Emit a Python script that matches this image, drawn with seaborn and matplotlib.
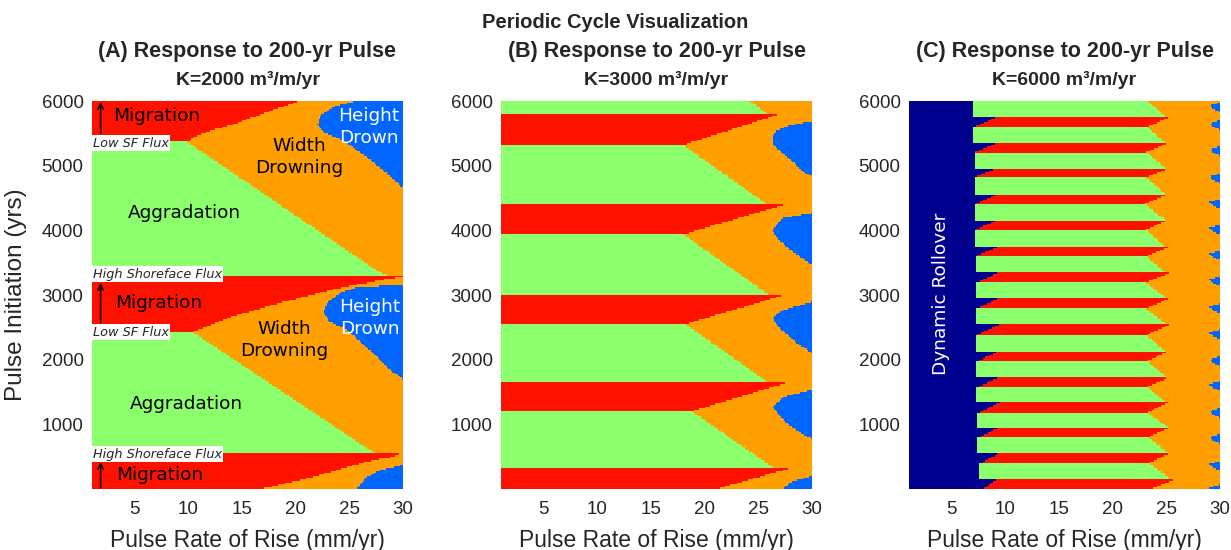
import numpy as np
import pandas as pd
import matplotlib
matplotlib.use("Agg")
import matplotlib.pyplot as plt
import seaborn as sns
from matplotlib.colors import ListedColormap
from matplotlib.path import Path

sns.set_style("white")
plt.rcParams["font.family"] = ["Liberation Sans", "DejaVu Sans"]

# regime codes and colours
ORANGE, GREEN, RED, BLUE, NAVY = 0, 1, 2, 3, 4
regime_colors = ["#ff9f00", "#8cff6c", "#ff1100", "#0066ff", "#00008f"]

# model grid: pulse rate (mm/yr) by pulse initiation (yr)
rate_lo, rate_hi, rate_step = 1.0, 30.0, 0.125
year_lo, year_hi, year_step = 0.0, 6000.0, 25.0

# ---------------- Panel A, K = 2000 : region outlines (rate, year)
a_red_top = [(1, 5365), (9.9, 5365), (10.8, 5473), (12.3, 5550), (14.5, 5658),
             (17.3, 5828), (20.1, 5983), (20.3, 6000), (1, 6000)]
a_green_upper = [(1, 3310), (28.6, 3310), (27.9, 3340), (9.9, 5365), (1, 5365)]
a_red_mid = [(1, 2427), (10.4, 2427), (13.9, 2659), (18.5, 2876), (23.2, 3077),
             (27.9, 3231), (30, 3278), (30, 3310), (1, 3310)]
a_green_lower = [(1, 540), (27.6, 540), (26.9, 603), (10.4, 2427), (1, 2427)]
a_red_bot = [(1, 0), (16.7, 0), (21.6, 186), (24.8, 340), (27.2, 448),
             (29.0, 495), (29.6, 540), (1, 540)]
a_blue_top = [(25.7, 6000), (23.7, 5921), (22.3, 5782), (22.0, 5627), (22.7, 5504),
              (24.4, 5396), (26.65, 5133), (28.5, 4885), (30, 4653), (30, 6000)]
a_blue_mid = [(30, 3154), (25.7, 3123), (24.1, 3030), (22.9, 2876), (22.55, 2721),
              (23.2, 2582), (24.8, 2458), (27.2, 2103), (28.8, 1840), (29.9, 1716), (30, 1700)]
a_blue_bot = [(25.7, 0), (26.65, 186), (27.9, 294), (30, 371), (30, 0)]

# ---------------- Panel B, K = 3000 : horizontal bands
b_green_top_yr = [6000, 5320, 3940, 2550, 1200]
b_green_bot_yr = [5800, 4390, 3010, 1650, 330]
b_green_top_x = [24.2, 18.0, 18.0, 18.2, 18.8]
b_green_bot_x = [25.8, 25.9, 25.9, 25.9, 26.4]
b_red_top_yr = [5800, 4390, 3010, 1650, 330]
b_red_bot_yr = [5320, 3940, 2550, 1200, 0]
b_red_top_x = [27.0, 27.3, 27.6, 27.8, 28.1]
b_red_bot_x = [18.0, 18.0, 18.2, 18.8, 21.1]
b_blue = [
    [(30, 5689), (28.0, 5627), (26.65, 5535), (26.3, 5426), (26.4, 5318),
     (28.0, 5086), (29.2, 4901), (30, 4839)],
    [(30, 4267), (27.3, 4190), (26.3, 4004), (26.75, 3880), (28.0, 3695), (30, 3463)],
    [(30, 2891), (27.3, 2767), (26.3, 2644), (27.0, 2489), (28.6, 2257), (30, 2103)],
    [(30, 1531), (27.3, 1422), (26.4, 1268), (27.3, 1067), (28.9, 866), (30, 773)],
    [(30, 201), (28.0, 108), (27.3, 0), (30, 0)],
]

# ---------------- Panel C, K = 6000 : rollover zone plus narrow bands
c_rollover_x = 10.0
c_red_top_yr = [5750, 5350, 4960, 4560, 4160, 3740, 3340, 2950, 2540, 2130, 1730, 1340, 960, 560, 150]
c_red_bot_yr = [5600, 5210, 4820, 4410, 4010, 3600, 3190, 2790, 2380, 1980, 1580, 1180, 800, 400, 0]
c_red_left_top_x = [9.2, 9.2, 9.2, 9.3, 9.3, 9.3, 9.3, 9.4, 9.4, 9.4, 9.5, 9.5, 9.5, 9.5, 9.2]
c_red_left_bot_x = [7.1, 7.1, 7.1, 7.2, 7.2, 7.2, 7.3, 7.3, 7.3, 7.4, 7.4, 7.5, 7.6, 7.7, 7.9]
c_red_right_top_x = [25.3, 25.2, 25.2, 25.2, 25.2, 25.2, 25.3, 25.3, 25.3, 25.2, 25.3, 25.2, 25.4, 25.4, 25.8]
c_red_right_bot_x = [23.2, 23.1, 23.1, 23.0, 23.1, 23.1, 23.1, 23.1, 23.1, 23.2, 23.2, 23.2, 23.3, 23.4, 23.5]
c_green_top_yr = [6000, 5600, 5210, 4820, 4410, 4010, 3600, 3190, 2790, 2380, 1980, 1580, 1180, 800, 400]
c_green_bot_yr = [5750, 5350, 4960, 4560, 4160, 3740, 3340, 2950, 2540, 2130, 1730, 1340, 960, 560, 150]
c_green_left_x = [7.0, 7.0, 7.1, 7.1, 7.1, 7.15, 7.2, 7.2, 7.25, 7.25, 7.3, 7.3, 7.35, 7.4, 7.5]
c_green_top_x = [23.2, 23.2, 23.1, 23.1, 23.0, 23.1, 23.1, 23.1, 23.1, 23.1, 23.2, 23.2, 23.2, 23.3, 23.4]
c_green_bot_x = [25.0, 24.9, 24.9, 24.9, 24.9, 24.9, 25.0, 25.0, 25.0, 24.9, 25.0, 24.9, 25.1, 25.1, 25.4]
c_blue_top_yr = [6000, 5720, 5320, 4900, 4510, 4110, 3710, 3310, 2890, 2490, 2070, 1690, 1270, 870, 460, 90]
c_blue_height = 200
c_blue_tip_x = 29.0

rate_centers = np.arange(rate_lo + rate_step / 2, rate_hi, rate_step)
year_centers = np.arange(year_hi - year_step / 2, year_lo, -year_step)
RR, YY = np.meshgrid(rate_centers, year_centers)
cell_pts = np.column_stack([RR.ravel(), YY.ravel()])


def paint(grid, poly, code):
    inside = Path(poly).contains_points(cell_pts).reshape(grid.shape)
    grid[inside] = code


def band(y_bot, y_top, xl_bot, xl_top, xr_bot, xr_top):
    return [(xl_bot, y_bot), (xr_bot, y_bot), (xr_top, y_top), (xl_top, y_top)]


def new_grid():
    return np.full(RR.shape, ORANGE, dtype=float)


grid_a = new_grid()
for poly, code in [(a_green_upper, GREEN), (a_green_lower, GREEN), (a_red_top, RED),
                   (a_red_mid, RED), (a_red_bot, RED), (a_blue_top, BLUE),
                   (a_blue_mid, BLUE), (a_blue_bot, BLUE)]:
    paint(grid_a, poly, code)

grid_b = new_grid()
for i in range(len(b_green_top_yr)):
    paint(grid_b, band(b_green_bot_yr[i], b_green_top_yr[i], 1, 1,
                       b_green_bot_x[i], b_green_top_x[i]), GREEN)
for i in range(len(b_red_top_yr)):
    paint(grid_b, band(b_red_bot_yr[i], b_red_top_yr[i], 1, 1,
                       b_red_bot_x[i], b_red_top_x[i]), RED)
for poly in b_blue:
    paint(grid_b, poly, BLUE)

grid_c = new_grid()
paint(grid_c, [(1, 0), (c_rollover_x, 0), (c_rollover_x, 6000), (1, 6000)], NAVY)
for i in range(len(c_green_top_yr)):
    paint(grid_c, band(c_green_bot_yr[i], c_green_top_yr[i], c_green_left_x[i],
                       c_green_left_x[i], c_green_bot_x[i], c_green_top_x[i]), GREEN)
for i in range(len(c_red_top_yr)):
    paint(grid_c, band(c_red_bot_yr[i], c_red_top_yr[i], c_red_left_bot_x[i],
                       c_red_left_top_x[i], c_red_right_bot_x[i], c_red_right_top_x[i]), RED)
for top in c_blue_top_yr:
    paint(grid_c, [(30.5, top), (c_blue_tip_x, top - 0.35 * c_blue_height),
                   (29.4, top - 0.65 * c_blue_height), (30.5, top - c_blue_height)], BLUE)


def cx(x):
    return (x - rate_lo) / rate_step


def cy(y):
    return (year_hi - y) / year_step


fig = plt.figure(figsize=(12.31, 5.5), dpi=100)
cmap = ListedColormap(regime_colors)
lefts = [92, 501, 909]
grids = [grid_a, grid_b, grid_c]
letters = ["A", "B", "C"]
kvals = [2000, 3000, 6000]
tick_color = "#262626"
axes = []
for left, grid, letter, k in zip(lefts, grids, letters, kvals):
    ax = fig.add_axes([left / 1231, 1 - 489 / 550, 311 / 1231, 388 / 550])
    df = pd.DataFrame(grid, index=year_centers, columns=rate_centers)
    sns.heatmap(df, ax=ax, cmap=cmap, vmin=-0.5, vmax=4.5, cbar=False,
                xticklabels=False, yticklabels=False)
    ax.set_xlim(0, len(rate_centers))
    ax.set_ylim(len(year_centers), 0)
    xt = [5, 10, 15, 20, 25, 30]
    yt = [1000, 2000, 3000, 4000, 5000, 6000]
    ax.set_xticks([cx(v) for v in xt])
    ax.set_xticklabels([str(v) for v in xt])
    ax.set_yticks([cy(v) for v in yt])
    ax.set_yticklabels([str(v) for v in yt])
    ax.tick_params(length=0, labelsize=13.5, colors=tick_color)
    ax.tick_params(axis="x", pad=9)
    ax.tick_params(axis="y", pad=6)
    ax.set_xlabel("Pulse Rate of Rise (mm/yr)", fontsize=16.5, color=tick_color)
    ax.xaxis.set_label_coords(0.5, -0.104)
    for s in ax.spines.values():
        s.set_visible(False)
    xc = (left + 155.5) / 1231
    fig.text(xc, 1 - 52 / 550, f"({letter}) Response to 200-yr Pulse", ha="center",
             va="center", fontsize=15.5, fontweight="bold")
    fig.text(xc, 1 - 80 / 550, f"K={k} m³/m/yr", ha="center", va="center",
             fontsize=14, fontweight="bold")
    axes.append(ax)

fig.text(0.5, 1 - 22 / 550, "Periodic Cycle Visualization", ha="center", va="center",
         fontsize=14.5, fontweight="bold")

ax_a = axes[0]
ax_a.set_ylabel("Pulse Initiation (yrs)", fontsize=17.5, color=tick_color)
ax_a.yaxis.set_label_coords(-0.21, 0.5)

label_font = dict(family="DejaVu Sans", fontsize=13.3)
flux_font = dict(family="DejaVu Sans", fontsize=9.3, style="italic")
box = dict(facecolor="white", edgecolor="none", pad=1.2)

for (x, y) in [(7.0, 5767), (7.2, 2876), (7.3, 216)]:
    ax_a.text(cx(x), cy(y), "Migration", ha="center", va="center", color="black", **label_font)
for (y0, y1) in [(5504, 5983), (2566, 3185), (15, 417)]:
    ax_a.annotate("", xy=(cx(1.8), cy(y1)), xytext=(cx(1.8), cy(y0)),
                  arrowprops=dict(arrowstyle="->", lw=1.1, color="black",
                                  shrinkA=0, shrinkB=0, mutation_scale=10))
for y in [5349, 2427]:
    ax_a.text(cx(1.05), cy(y), "Low SF Flux", ha="left", va="center", bbox=box, **flux_font)
for y in [3324, 541]:
    ax_a.text(cx(1.05), cy(y), "High Shoreface Flux", ha="left", va="center", bbox=box, **flux_font)
for (x, y) in [(20.3, 5133), (18.9, 2303)]:
    ax_a.text(cx(x), cy(y), "Width\nDrowning", ha="center", va="center", color="black",
              linespacing=1.3, **label_font)
for (x, y) in [(26.8, 5597), (26.9, 2643)]:
    ax_a.text(cx(x), cy(y), "Height\nDrown", ha="center", va="center", color="white",
              linespacing=1.3, **label_font)
for (x, y) in [(9.6, 4267), (9.8, 1314)]:
    ax_a.text(cx(x), cy(y), "Aggradation", ha="center", va="center", color="black", **label_font)

axes[2].text(cx(4.0), cy(3015), "Dynamic Rollover", ha="center", va="center", rotation=90,
             color="white", **label_font)

fig.savefig("out.png", dpi=100)
